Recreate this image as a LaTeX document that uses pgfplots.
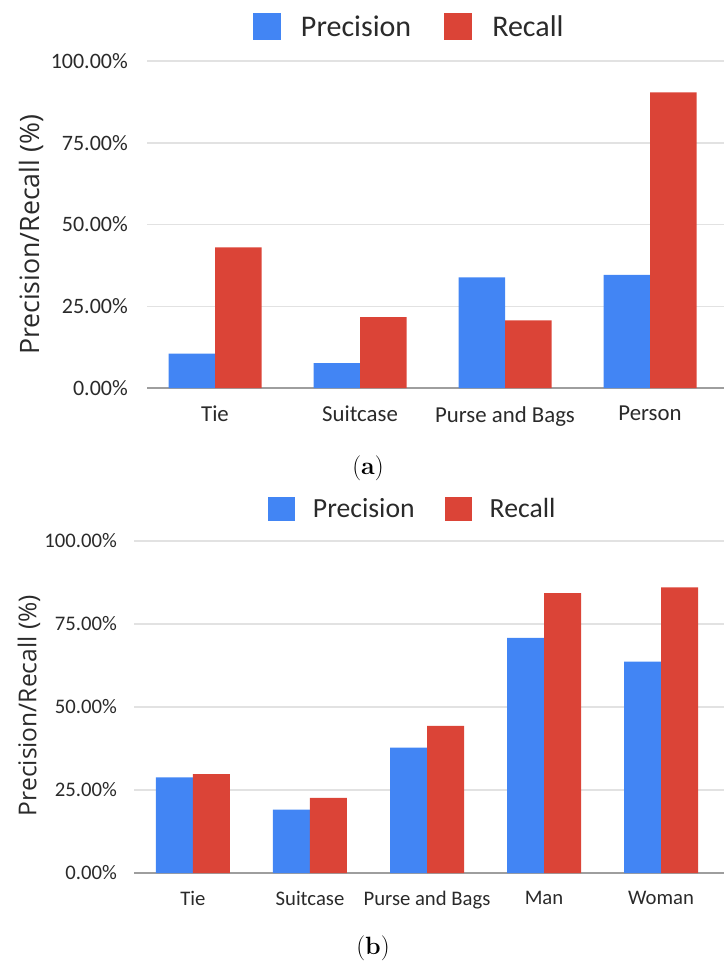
\documentclass[border=0pt]{standalone}
\usepackage{fontspec}
\usepackage{pgfplots}
\pgfplotsset{compat=1.18}
\newfontfamily\carlito{Carlito}
\newfontfamily\opensans{Open Sans}
\definecolor{gblue}{HTML}{4285F4}
\definecolor{gred}{HTML}{DB4437}
\definecolor{gridc}{HTML}{E2E2E2}
\definecolor{basec}{HTML}{9E9E9E}
\definecolor{txt}{HTML}{2A2A2A}

\pgfplotsset{
  gchart/.style={
    scale only axis,
    ybar=0pt,
    ymin=0, ymax=100,
    ytick={0,25,50,75,100},
    yticklabels={0.00\%,25.00\%,50.00\%,75.00\%,100.00\%},
    ymajorgrids,
    major grid style={gridc, line width=1.5pt},
    axis lines*=left,
    y axis line style={draw=none},
    x axis line style={basec, line width=2pt},
    major tick length=0pt,
    tick style={draw=none},
    xtick=data,
    legend columns=2,
    clip=false,
  },
  sqA/.style={legend image code/.code={\fill[##1] (0pt,-13.5pt) rectangle (28pt,13.5pt);}},
  sqB/.style={legend image code/.code={\fill[##1] (0pt,-12pt) rectangle (27pt,12pt);}},
}

\pgfplotstableread{
x P R
0 10.5 43.0
1 7.6 21.7
2 33.8 20.7
3 34.6 90.4
}\topdata

\pgfplotstableread{
x P R
0 28.8 29.8
1 19.1 22.6
2 37.8 44.3
3 70.8 84.3
4 63.7 86.0
}\botdata

\begin{document}
\begin{tikzpicture}
\useasboundingbox (0pt,0pt) rectangle (724pt,-963pt);

\begin{axis}[gchart,
  at={(147pt,-388pt)}, anchor=south west,
  width=577pt, height=327pt,
  xmin=-0.469, xmax=3.51,
  xticklabels={Tie,Suitcase,Purse and Bags,Person},
  bar width=46.5pt,
  yticklabel style={font=\carlito\fontsize{22}{22}\selectfont, text=txt, inner sep=0pt, anchor=east, xshift=-19pt},
  xticklabel style={font=\carlito\fontsize{22.8}{22.8}\selectfont, text=txt, inner sep=0pt, anchor=north, yshift=-18pt},
  ylabel={Precision/Recall (\%)},
  every axis y label/.style={at={(axis description cs:-0.201,0.468)}, rotate=90, anchor=center, font=\opensans\fontsize{26.7}{26.7}\selectfont, text=txt},
  legend style={at={(0.1837,1.1055)}, anchor=west, draw=none, fill=none, inner sep=0pt, outer sep=0pt,
    font=\carlito\fontsize{30}{30}\selectfont, text=txt,
    nodes={inner sep=0pt, anchor=west},
    /tikz/every odd column/.append style={column sep=20pt},
    /tikz/every even column/.append style={column sep=33pt}},
]
\addplot[fill=gblue, draw=none, sqA] table[x=x, y=P] {\topdata};
\addplot[fill=gred, draw=none, sqA] table[x=x, y=R] {\topdata};
\legend{Precision, Recall}
\end{axis}
\node[font=\fontsize{25}{25}\selectfont] at (368pt,-468pt) {(\textbf{a})};

\begin{axis}[gchart,
  at={(134pt,-873pt)}, anchor=south west,
  width=590pt, height=332pt,
  xmin=-0.504, xmax=4.538,
  xticklabels={Tie,Suitcase,Purse and Bags,Man,Woman},
  bar width=37pt,
  yticklabel style={font=\carlito\fontsize{20.7}{20.7}\selectfont, text=txt, inner sep=0pt, anchor=east, xshift=-17pt},
  xticklabel style={font=\carlito\fontsize{20.7}{20.7}\selectfont, text=txt, inner sep=0pt, anchor=north, yshift=-18pt},
  ylabel={Precision/Recall (\%)},
  every axis y label/.style={at={(axis description cs:-0.178,0.5045)}, rotate=90, anchor=center, font=\opensans\fontsize{24.6}{24.6}\selectfont, text=txt},
  legend style={at={(0.227,1.0964)}, anchor=west, draw=none, fill=none, inner sep=0pt, outer sep=0pt,
    font=\carlito\fontsize{27.7}{27.7}\selectfont, text=txt,
    nodes={inner sep=0pt, anchor=west},
    /tikz/every odd column/.append style={column sep=18pt},
    /tikz/every even column/.append style={column sep=30pt}},
]
\addplot[fill=gblue, draw=none, sqB] table[x=x, y=P] {\botdata};
\addplot[fill=gred, draw=none, sqB] table[x=x, y=R] {\botdata};
\legend{Precision, Recall}
\end{axis}
\node[font=\fontsize{25}{25}\selectfont] at (373pt,-948pt) {(\textbf{b})};
\end{tikzpicture}
\end{document}
